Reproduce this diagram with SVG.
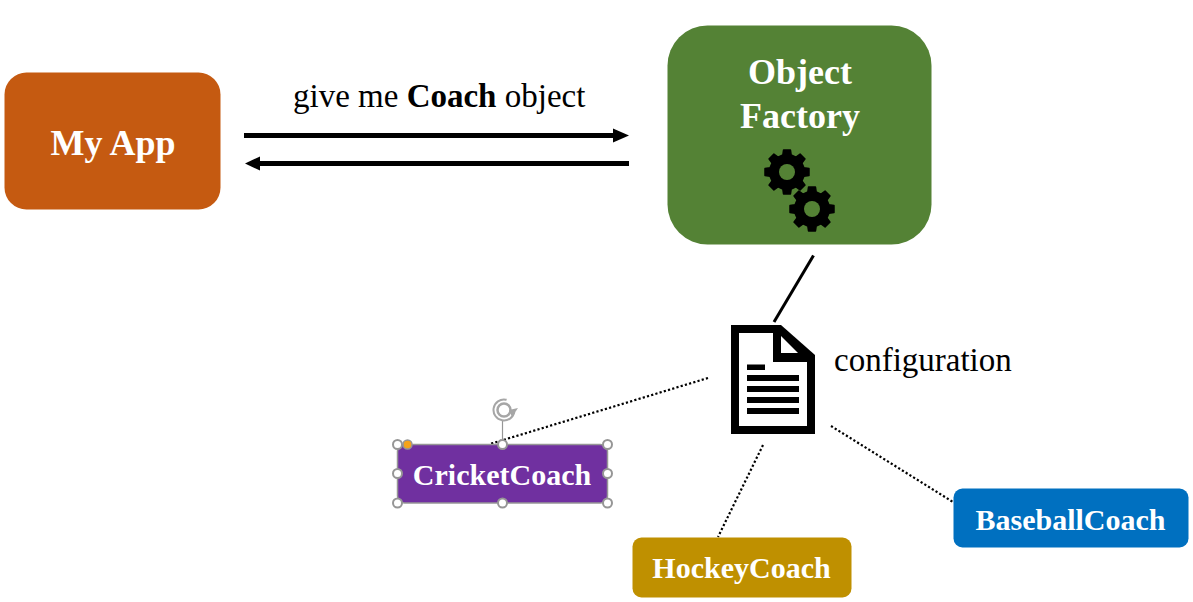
<svg xmlns="http://www.w3.org/2000/svg" width="1193" height="602" viewBox="0 0 1193 602">
<style>
text{font-family:"Liberation Serif","Times New Roman",serif}
.n{font-weight:700;fill:#fff;text-anchor:middle}
.c{font-size:30px}
.t{font-size:33px;fill:#000}
.s{stroke:#000;stroke-width:5;fill:none}
.d{stroke:#000;stroke-width:2.2;stroke-dasharray:2.2 2.2;fill:none}
.h{fill:#fff;stroke:#969696;stroke-width:2}
</style>
<defs>
<g id="gear">
<path transform="scale(.97)" fill="#000" stroke="#000" stroke-width="1.500" stroke-linejoin="round" d="M22.700 -3.600L22.700 3.600L17.500 4.350L15.400 9.300L18.600 13.500L13.500 18.600L9.300 15.400L4.350 17.500L3.600 22.700L-3.600 22.700L-4.350 17.500L-9.300 15.400L-13.500 18.600L-18.600 13.500L-15.400 9.300L-17.500 4.350L-22.700 3.600L-22.700 -3.600L-17.500 -4.350L-15.400 -9.300L-18.600 -13.500L-13.500 -18.600L-9.300 -15.400L-4.350 -17.500L-3.600 -22.700L3.600 -22.700L4.350 -17.500L9.300 -15.400L13.500 -18.600L18.600 -13.500L15.400 -9.300L17.500 -4.350Z"/>
<circle r="8" fill="#548235"/>
</g>
</defs>
<rect width="1193" height="602" fill="#fff"/>
<g id="connectors">
<line class="s" x1="244" y1="135.500" x2="615" y2="135.500"/>
<path d="M613 128.500L629 135.500L613 142.500Z" fill="#000"/>
<line class="s" x1="629" y1="163.500" x2="258" y2="163.500"/>
<path d="M260 156.500L245 163.500L260 170.500Z" fill="#000"/>
<line x1="813.500" y1="255.500" x2="774" y2="322" stroke="#000" stroke-width="3"/>
<line class="d" x1="708" y1="378" x2="490" y2="444"/>
<line class="d" x1="763" y1="445" x2="718" y2="537"/>
<line class="d" x1="831" y1="426" x2="953" y2="502"/>
</g>
<g id="my-app">
<rect x="4.500" y="72.500" width="216" height="137" rx="22" fill="#c55a11"/>
<text class="n" x="113" y="155" font-size="36">My App</text>
</g>
<g id="object-factory">
<rect x="667.500" y="25.500" width="264" height="219" rx="40" fill="#548235"/>
<text class="n" x="800" y="84" font-size="36">Object</text>
<text class="n" x="800" y="128" font-size="36">Factory</text>
<use href="#gear" x="787" y="172"/>
<use href="#gear" x="812" y="209"/>
</g>
<g id="label-request">
<text class="t" x="293" y="107">give me <tspan font-weight="700">Coach</tspan> object</text>
</g>
<g id="configuration">
<path d="M731 325H781L815 355V434H731Z" fill="#000"/>
<path d="M739 333H773V362H807V426H739Z" fill="#fff"/>
<path d="M781 336L798 353H781Z" fill="#fff"/>
<path d="M747 364.500H765V370H747ZM747 375H799V381H747ZM747 386H799V392H747ZM747 397H799V403H747ZM747 408H799V414H747Z" fill="#000"/>
<text class="t" x="834" y="371">configuration</text>
</g>
<g id="cricket-coach">
<rect x="397.500" y="444.500" width="210" height="58.500" rx="7" fill="#7030a0" stroke="#969696" stroke-width="1.500"/>
<text class="n c" x="502" y="485">CricketCoach</text>
<path d="M502.500 444V421" stroke="#969696" stroke-width="1.200" fill="none"/>
<circle cx="504" cy="410" r="6.500" fill="none" stroke="#a6a6a6" stroke-width="2.500"/>
<circle cx="504" cy="410" r="10.500" fill="none" stroke="#a6a6a6" stroke-width="2" stroke-dasharray="50 16" transform="rotate(10 504 410)"/>
<path d="M509 410L518 408L512 417Z" fill="#a6a6a6"/>
<circle class="h" cx="397.500" cy="444.500" r="4.500"/>
<circle cx="407.500" cy="444.500" r="4.500" fill="#f5a31a" stroke="#969696" stroke-width="1.500"/>
<circle class="h" cx="502.500" cy="444.500" r="4.500"/>
<circle class="h" cx="607.500" cy="444.500" r="4.500"/>
<circle class="h" cx="397.500" cy="473.500" r="4.500"/>
<circle class="h" cx="607.500" cy="473.500" r="4.500"/>
<circle class="h" cx="397.500" cy="503" r="4.500"/>
<circle class="h" cx="502.500" cy="503" r="4.500"/>
<circle class="h" cx="607.500" cy="503" r="4.500"/>
</g>
<g id="hockey-coach">
<rect x="632.500" y="537.500" width="219" height="60" rx="9" fill="#bf9000"/>
<text class="n c" x="741.500" y="578">HockeyCoach</text>
</g>
<g id="baseball-coach">
<rect x="953.500" y="488.500" width="235" height="59" rx="9" fill="#0070c0"/>
<text class="n c" x="1070.500" y="530">BaseballCoach</text>
</g>
</svg>
